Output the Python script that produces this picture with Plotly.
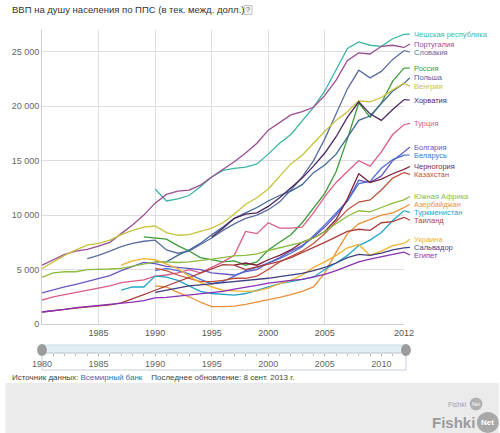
import plotly.graph_objects as go

# ---------------- data ----------------
years_all = list(range(1980, 2013))

names = ["Чешская республика", "Португалия", "Словакия", "Россия", "Польша", "Венгрия",
         "Хорватия", "Турция", "Болгария", "Беларусь", "Черногория", "Казахстан",
         "Южная Африка", "Азербайджан", "Туркменистан", "Таиланд", "Украина",
         "Сальвадор", "Египет"]

start_years = [1990, 1980, 1984, 1989, 1990, 1980,
               1995, 1980, 1980, 1990, 1997, 1990,
               1980, 1990, 1987, 1980, 1987,
               1990, 1980]

czech = [12400, 11300, 11500, 11800, 12600, 13500, 14100, 14300, 14400, 14700, 15600, 16600,
         17400, 18600, 19900, 21400, 23300, 25300, 25900, 25600, 25500, 26200, 26600]
portugal = [5400, 5900, 6400, 6700, 6850, 7150, 7500, 8300, 9100, 10000,
            11100, 11900, 12200, 12300, 12750, 13500, 14200, 14900, 15700, 16600,
            17800, 18500, 19200, 19500, 19900, 21000, 22400, 24200, 24900, 24800,
            25500, 25600, 25400]
slovakia = [6000, 6300, 6700, 7100, 7400, 7600,
            7700, 6800, 6500, 6700, 7300, 7900, 8600, 9200, 9700, 10000,
            10500, 11200, 12300, 13500, 15000, 17000, 19300, 21600, 23300, 22600,
            23200, 24300, 25100]
russia = [8000, 7900, 7800, 7200, 6700, 6100, 5900, 5700, 5800, 5400, 5700,
          6800, 7500, 8200, 9300, 10600, 12000, 14000, 17000, 20300, 19000,
          20300, 22300, 23500]
poland = [5700, 5700, 6300, 6800, 7400, 8200, 8900, 9700, 10200, 10700,
          11300, 11800, 12200, 12800, 13900, 14600, 15600, 17100, 18700, 19100,
          20200, 21400, 22100]
hungary = [5100, 5700, 6300, 6800, 7250, 7400, 7700, 8200, 8600, 8900,
           9000, 8400, 8150, 8200, 8500, 8800, 9300, 10100, 11000, 11600,
           12400, 13600, 14700, 15500, 16600, 17700, 18700, 19500, 20500, 20400,
           20800, 21500, 22100]
croatia = [8000, 8800, 9700, 10100, 10200, 10800, 11600, 12500, 13400, 14500,
           15700, 17200, 19000, 20400, 19300, 18700, 19700, 20600]
turkey = [2200, 2500, 2700, 2900, 3100, 3300, 3500, 3800, 3950, 4050,
          4400, 4500, 4700, 5000, 4700, 5200, 5700, 6300, 8500, 8300,
          9300, 8800, 8800, 8900, 10200, 11700, 13000, 14000, 15000, 14500,
          15800, 17400, 18300]
bulgaria = [2850, 3150, 3400, 3650, 3900, 4150, 4450, 4900, 5300, 5650,
            5550, 5300, 5200, 5100, 5000, 4700, 4600, 4500, 4800, 5000,
            5600, 6100, 6700, 7200, 8000, 8900, 10000, 11300, 13200, 13000,
            13600, 15000, 15800]
belarus = [4900, 5100, 4900, 4600, 4100, 3700, 3900, 4400, 4900, 5200,
           5600, 6000, 6500, 7100, 8100, 9100, 10200, 11300, 12900, 13100,
           14300, 15100, 15500]
montenegro = [5400, 5600, 5400, 5900, 6300, 6800, 7500, 7900, 8500, 9600,
              11500, 13800, 13000, 13300, 13800, 14200]
kazakhstan = [5100, 4900, 4500, 4200, 3900, 3900, 4000, 4200, 4200, 4400,
              5000, 5700, 6200, 6700, 7400, 8300, 9400, 10500, 11200, 11400,
              12300, 13400, 13900]
south_africa = [4300, 4700, 4800, 4800, 5000, 5000, 5050, 5100, 5300, 5500,
                5700, 5700, 5650, 5700, 5800, 5950, 6100, 6250, 6300, 6450,
                6750, 7000, 7300, 7500, 7900, 8500, 9200, 9900, 10400, 10300,
                10700, 11100, 11400]
azerbaijan = [3500, 3400, 2900, 2500, 2000, 1600, 1600, 1650, 1800, 2000,
              2200, 2450, 2700, 3000, 3400, 4700, 6600, 8300, 9200, 9600,
              10000, 10200, 10700]
turkmenistan = [3100, 3400, 3400, 4400, 4300, 4000, 3500, 3000, 2800, 2750,
                2650, 2800, 3100, 3400, 3700, 3900, 4100, 4300, 5000, 5600,
                6300, 7200, 7700, 8400, 9500, 10400]
thailand = [1100, 1250, 1350, 1450, 1550, 1650, 1750, 1950, 2300, 2700,
            3100, 3500, 3850, 4250, 4650, 5100, 5450, 5400, 5000, 5250,
            5500, 5750, 6100, 6550, 7050, 7500, 8000, 8500, 8700, 8600,
            9300, 9400, 9800]
ukraine = [5400, 5800, 6000, 5900, 5500, 5100, 4400, 3800, 3400, 3100,
           3050, 3000, 3050, 3300, 3700, 4000, 4500, 5200, 5700, 6300,
           7000, 7300, 6300, 6700, 7200, 7400]
salvador = [2900, 3100, 3300, 3500, 3600, 3700, 3750, 3850, 3950, 4050,
            4200, 4350, 4500, 4650, 4900, 5200, 5600, 6100, 6400, 6300,
            6500, 6800, 7000]
egypt = [1100, 1200, 1350, 1500, 1600, 1700, 1750, 1850, 2000, 2150,
         2400, 2450, 2550, 2650, 2750, 2850, 3000, 3200, 3350, 3550,
         3750, 3900, 4000, 4100, 4300, 4550, 4900, 5300, 5700, 5950,
         6200, 6400, 6600]

series = [czech, portugal, slovakia, russia, poland, hungary, croatia, turkey,
          bulgaria, belarus, montenegro, kazakhstan, south_africa, azerbaijan,
          turkmenistan, thailand, ukraine, salvador, egypt]

# label positions at the right edge (value units)
label_pos = [26630, 25710, 24980, 23510, 22610, 21850, 20570, 18430, 16250, 15520,
             14470, 13740, 11710, 10980, 10250, 9520, 7780, 7040, 6330]

colors = ["#3db5a6", "#9a4c95", "#5b6ea0", "#3d9b3a", "#3f6897", "#c8c23c",
          "#4d2562", "#dc5b8c", "#6757c2", "#4a70d0", "#7c1f3c", "#c2503c",
          "#8cbc3c", "#e9913a", "#22a6c9", "#ac3d3a", "#f0b22e",
          "#3f3f80", "#8a30b5"]

y_ticks = [0, 5000, 10000, 15000, 20000, 25000]
y_ticktext = ["0", "5 000", "10 000", "15 000", "20 000", "25 000"]
x_ticks = [1985, 1990, 1995, 2000, 2005, 2012]
slider_ticks = [1980, 1985, 1990, 1995, 2000, 2005, 2010]

# ---------------- geometry helpers (pixel -> paper) ----------------
W, H = 500, 433
ML, MR, MT, MB = 37, 96, 30, 80
PW = W - ML - MR
PH = H - MT - MB
def px(x):
    return (x - ML) / PW
def py(y):
    return (H - MB - y) / PH

FONT = "Liberation Sans, Arial, sans-serif"

fig = go.Figure()
for name, start, vals, col in zip(names, start_years, series, colors):
    xs = list(range(start, start + len(vals)))
    fig.add_trace(go.Scatter(x=xs, y=vals, mode="lines", name=name,
                             line=dict(color=col, width=1.3), hoverinfo="skip",
                             showlegend=False))

# invisible trace for slider axis
fig.add_trace(go.Scatter(x=[1980, 2012], y=[0, 1], mode="markers", xaxis="x2", yaxis="y2",
                         marker=dict(opacity=0), hoverinfo="skip", showlegend=False))

shapes = []
annotations = []

# connectors + labels
for name, vals, col, lp in zip(names, series, colors, label_pos):
    shapes.append(dict(type="line", xref="paper", yref="y", x0=1.0, x1=px(410),
                       y0=vals[-1], y1=lp, line=dict(color=col, width=1.2)))
    annotations.append(dict(xref="paper", yref="y", x=px(412), y=lp, text=name,
                            showarrow=False, xanchor="left", yanchor="middle",
                            font=dict(family=FONT, size=7.5, color=col)))

# footer
shapes.append(dict(type="rect", xref="paper", yref="paper", x0=px(0), x1=px(500),
                   y0=py(433), y1=py(383), fillcolor="#ebebeb", line=dict(width=0),
                   layer="below"))
# slider band
shapes.append(dict(type="rect", xref="paper", yref="paper", x0=px(37), x1=px(406),
                   y0=py(353), y1=py(345), fillcolor="#e2eff4",
                   line=dict(color="#c9dde6", width=1), layer="below"))
# slider box
shapes.append(dict(type="rect", xref="paper", yref="paper", x0=px(37), x1=px(406),
                   y0=py(370), y1=py(353), line=dict(color="#c6cfd7", width=1),
                   layer="below"))
# handles
shapes.append(dict(type="circle", xref="paper", yref="paper", x0=px(32), x1=px(42),
                   y0=py(356), y1=py(344), fillcolor="#9c9c9c", line=dict(width=0)))
shapes.append(dict(type="circle", xref="paper", yref="paper", x0=px(401), x1=px(411),
                   y0=py(356), y1=py(344), fillcolor="#9c9c9c", line=dict(width=0)))
# "?" box
shapes.append(dict(type="rect", xref="paper", yref="paper", x0=px(242), x1=px(250),
                   y0=py(14.5), y1=py(5.5), fillcolor="#f3f3f3",
                   line=dict(color="#c4c4c4", width=1)))
# logos
shapes.append(dict(type="circle", xref="paper", yref="paper", x0=px(470.5), x1=px(483.5),
                   y0=py(410.5), y1=py(397.5), fillcolor="#b0b0b0", line=dict(width=0)))
shapes.append(dict(type="circle", xref="paper", yref="paper", x0=px(478), x1=px(500),
                   y0=py(433), y1=py(412), fillcolor="#a8a8a8", line=dict(width=0)))

annotations += [
    dict(xref="paper", yref="paper", x=px(5), y=py(10), xanchor="left", yanchor="middle",
         text="ВВП на душу населения по ППС (в тек. межд. долл.)", showarrow=False,
         font=dict(family=FONT, size=9.5, color="#333333")),
    dict(xref="paper", yref="paper", x=px(246), y=py(10), xanchor="center", yanchor="middle",
         text="?", showarrow=False, font=dict(family=FONT, size=7, color="#555555")),
    dict(xref="paper", yref="paper", x=px(5), y=py(377), xanchor="left", yanchor="middle",
         text="Источник данных: <span style='color:#3d6ea8'>Всемирный банк</span>"
              "&nbsp;&nbsp;&nbsp; Последнее обновление: 8 сент. 2013 г.",
         showarrow=False, font=dict(family=FONT, size=8, color="#444444")),
    dict(xref="paper", yref="paper", x=px(470), y=py(404), xanchor="right", yanchor="middle",
         text="Fishki", showarrow=False, font=dict(family=FONT, size=7, color="#a0a0a0")),
    dict(xref="paper", yref="paper", x=px(477), y=py(404), xanchor="center", yanchor="middle",
         text="Net", showarrow=False, font=dict(family=FONT, size=5, color="#ffffff")),
    dict(xref="paper", yref="paper", x=px(478), y=py(422), xanchor="right", yanchor="middle",
         text="<b>Fishki</b>", showarrow=False, font=dict(family=FONT, size=15, color="#9b9b9b")),
    dict(xref="paper", yref="paper", x=px(489), y=py(422), xanchor="center", yanchor="middle",
         text="<b>Net</b>", showarrow=False, font=dict(family=FONT, size=8, color="#ffffff")),
]

fig.update_layout(
    width=W, height=H,
    margin=dict(l=ML, r=MR, t=MT, b=MB, pad=0),
    paper_bgcolor="white", plot_bgcolor="white",
    font=dict(family=FONT, size=9, color="#555555"),
    showlegend=False,
    xaxis=dict(domain=[0, 1], anchor="y", range=[1980, 2012], tickvals=x_ticks,
               ticktext=[str(v) for v in x_ticks], showgrid=True, gridcolor="#dedede",
               gridwidth=1, showline=True, linecolor="#cfcfcf", zeroline=False, ticks="",
               tickfont=dict(family=FONT, size=9, color="#555555"), fixedrange=True),
    yaxis=dict(domain=[py(324), 1], anchor="x", range=[0, 27000], tickvals=y_ticks,
               ticktext=y_ticktext, showgrid=True, gridcolor="#dedede", gridwidth=1,
               showline=True, linecolor="#cfcfcf", zeroline=False, ticks="",
               tickfont=dict(family=FONT, size=9, color="#666666"), fixedrange=True),
    xaxis2=dict(domain=[0, 1], anchor="y2", range=[1980, 2012], tickvals=slider_ticks,
                ticktext=[str(v) for v in slider_ticks], showgrid=False, showline=False,
                zeroline=False, ticks="outside", ticklen=2, tickcolor="#aaaaaa",
                minor=dict(ticks="outside", dtick=1, tick0=1980, ticklen=2, tickcolor="#bbbbbb"),
                tickfont=dict(family=FONT, size=9, color="#666666"), fixedrange=True),
    yaxis2=dict(domain=[0, py(345)], anchor="x2", range=[0, 1], visible=False, fixedrange=True),
    shapes=shapes, annotations=annotations,
)

fig.write_html("out.html", config={"displayModeBar": False},
               post_script="document.body.style.margin='0';document.body.style.padding='0';"
                           "document.documentElement.style.overflow='hidden';")
